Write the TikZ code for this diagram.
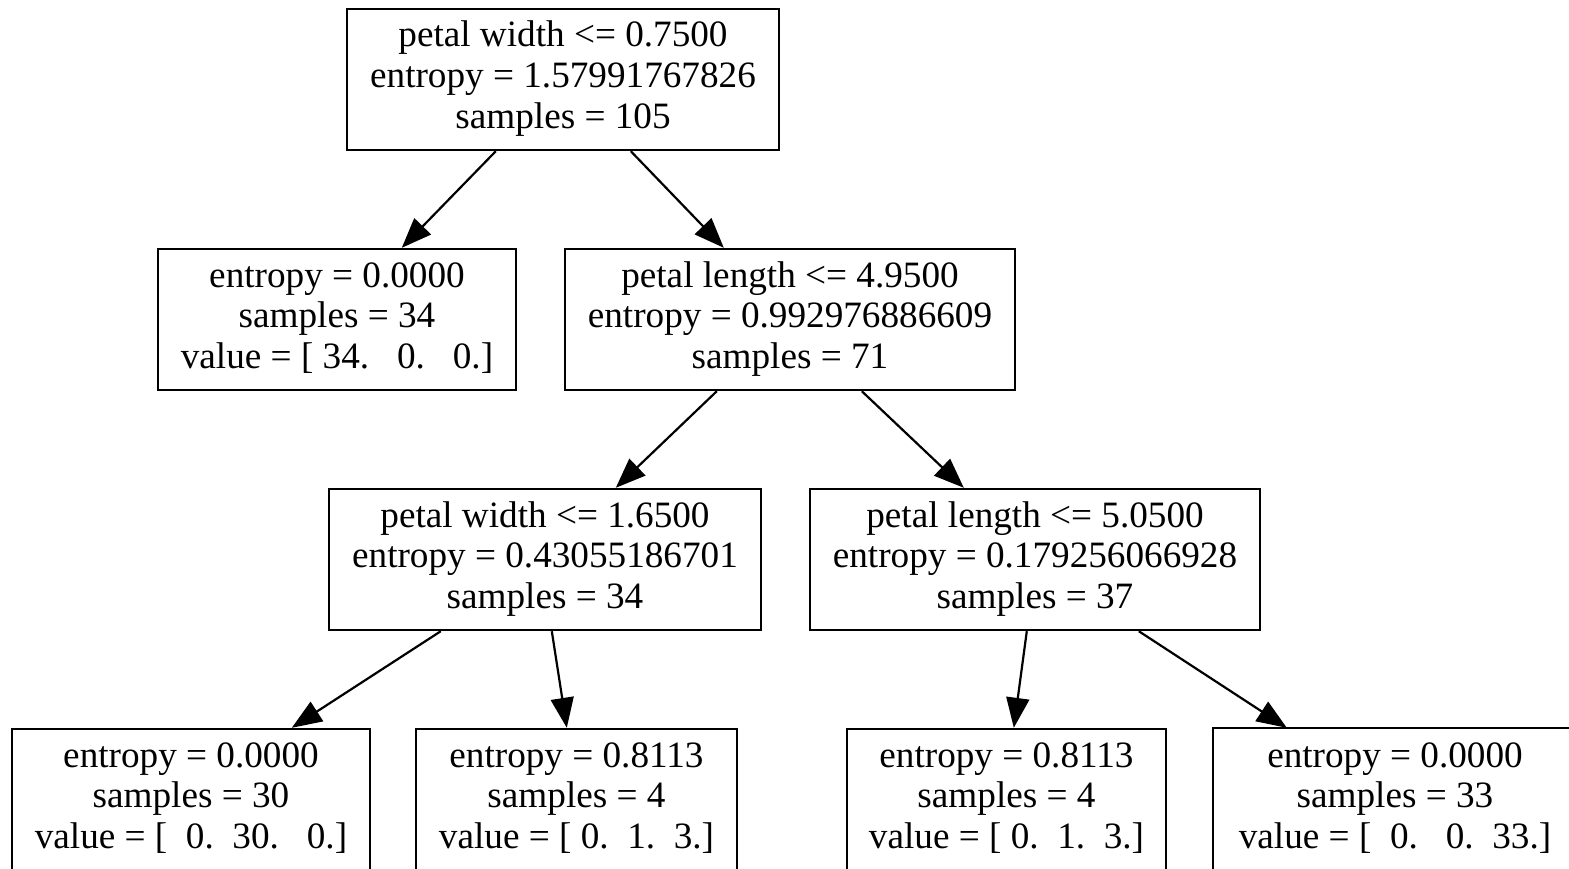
\documentclass[tikz,border=0pt]{standalone}
\usepackage{fontspec}
\setmainfont{Liberation Serif}
\usetikzlibrary{arrows.meta}

% fixed struts so that every box places its three lines alike
\newcommand{\firstln}{\rule{0pt}{28pt}}
\newcommand{\lastln}{\rule[-11.6pt]{0pt}{11.6pt}}

\tikzset{
  treenode/.style={draw, line width=2.4pt, rectangle, inner sep=0pt,
    minimum height=141pt, align=center,
    font=\fontsize{37.2}{40.7}\selectfont},
  edge/.style={line width=2.2pt, -{Triangle[length=30pt,width=23pt]}}
}

\begin{document}
\begin{tikzpicture}[x=1pt,y=-1pt]
  \useasboundingbox (0,0) rectangle (1569,869);
  \clip (0,0) rectangle (1569,869);
  \fill[white] (0,0) rectangle (1569,869);

  % level 0
  \node[treenode, minimum width=432pt] (root) at (563,79.5)
    {\firstln petal width <= 0.7500\\entropy = 1.57991767826\\samples = 105\lastln};

  % level 1
  \node[treenode, minimum width=358pt] (l1a) at (337,319.5)
    {\firstln entropy = 0.0000\\samples = 34\\value = [~34.~~~0.~~~0.]\lastln};
  \node[treenode, minimum width=450pt] (l1b) at (790,319.5)
    {\firstln petal length <= 4.9500\\entropy = 0.992976886609\\samples = 71\lastln};

  % level 2
  \node[treenode, minimum width=432pt] (l2a) at (545,559.5)
    {\firstln petal width <= 1.6500\\entropy = 0.43055186701\\samples = 34\lastln};
  \node[treenode, minimum width=450pt] (l2b) at (1035,559.5)
    {\firstln petal length <= 5.0500\\entropy = 0.179256066928\\samples = 37\lastln};

  % level 3 (leaves); the last box runs past the right edge of the page
  \node[treenode, minimum width=358pt] (l3a) at (191,799.5)
    {\firstln entropy = 0.0000\\samples = 30\\value = [~~0.~~30.~~~0.]\lastln};
  \node[treenode, minimum width=321pt] (l3b) at (576.5,799.5)
    {\firstln entropy = 0.8113\\samples = 4\\value = [~0.~~1.~~3.]\lastln};
  \node[treenode, minimum width=319pt] (l3c) at (1006.5,799.5)
    {\firstln entropy = 0.8113\\samples = 4\\value = [~0.~~1.~~3.]\lastln};
  \node[treenode, draw=none, minimum width=362pt] (l3d) at (1395,799.5)
    {\firstln entropy = 0.0000\\samples = 33\\value = [~~0.~~~0.~~33.]\lastln};
  \draw[line width=2.4pt] (l3d.south west) -- (l3d.north west)
    -- ([xshift=30pt]l3d.north east);

  % connectors
  \draw[edge] ([xshift=150pt]root.south west) -- ([xshift=245pt]l1a.north west);
  \draw[edge] ([xshift=285pt]root.south west) -- ([xshift=160pt]l1b.north west);
  \draw[edge] ([xshift=153pt]l1b.south west) -- ([xshift=288pt]l2a.north west);
  \draw[edge] ([xshift=298pt]l1b.south west) -- ([xshift=155pt]l2b.north west);
  \draw[edge] ([xshift=113pt]l2a.south west) -- ([xshift=281pt]l3a.north west);
  \draw[edge] ([xshift=224pt]l2a.south west) -- ([xshift=152pt]l3b.north west);
  \draw[edge] ([xshift=218pt]l2b.south west) -- ([xshift=168pt]l3c.north west);
  \draw[edge] ([xshift=330pt]l2b.south west) -- ([xshift=74pt]l3d.north west);
\end{tikzpicture}
\end{document}
